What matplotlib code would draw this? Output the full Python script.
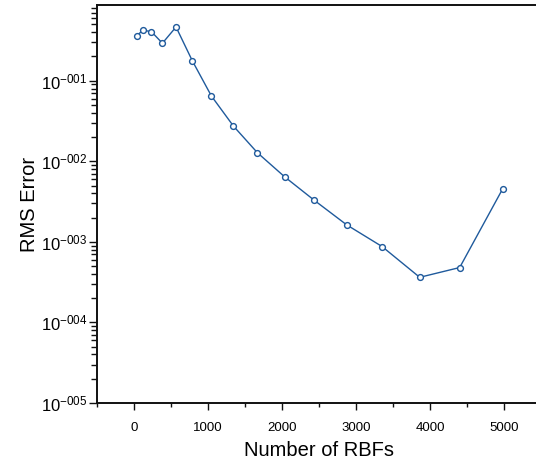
import matplotlib
matplotlib.use('Agg')
import matplotlib.pyplot as plt
from matplotlib.ticker import FixedLocator, LogLocator, FuncFormatter, NullFormatter
import numpy as np

C_LINE = '#1f5a9c'
C_INK = '#111111'

plt.rcParams.update({
    'font.family': 'Liberation Sans',
    'mathtext.fontset': 'custom',
    'mathtext.rm': 'Liberation Sans',
    'mathtext.it': 'Liberation Sans:italic',
    'mathtext.bf': 'Liberation Sans:bold',
})

# number of RBFs vs RMS error
n_rbfs = [36, 122, 235, 384, 568, 789, 1046, 1343, 1668, 2036, 2438, 2874, 3352, 3861, 4401, 4982]
rms_err = [0.362, 0.423, 0.406, 0.292, 0.464, 0.176, 0.0646, 0.0274, 0.01276,
           0.00641, 0.00327, 0.001626, 0.000875, 0.000363, 0.00048, 0.00455]

x_ticks = [0, 1000, 2000, 3000, 4000, 5000]
y_ticks = [1e-5, 1e-4, 1e-3, 1e-2, 1e-1]

fig = plt.figure(figsize=(5.36, 4.61), dpi=100)
ax = fig.add_axes([97/536, 58/461, 444/536, 398/461])

ax.plot(n_rbfs, rms_err, '-o', color=C_LINE, lw=1.0, ms=4.2,
        mfc='white', mec=C_LINE, mew=1.0, clip_on=False)

ax.set_yscale('log')
ax.set_xlim(-500, 5500)
ax.set_ylim(1e-5, 0.87)

ax.xaxis.set_major_locator(FixedLocator(x_ticks))
ax.xaxis.set_minor_locator(FixedLocator(np.arange(-500, 5501, 500)))
ax.yaxis.set_major_locator(FixedLocator(y_ticks))
ax.yaxis.set_minor_locator(LogLocator(base=10, subs=np.arange(2, 10), numticks=20))
ax.yaxis.set_minor_formatter(NullFormatter())

def fmt_pow(v, pos):
    e = int(round(np.log10(v)))
    return r'$10^{-%03d}$' % abs(e)

ax.yaxis.set_major_formatter(FuncFormatter(fmt_pow))

ax.tick_params(axis='x', which='major', direction='out', length=5, width=1, pad=8.5,
               labelsize=9.5, color=C_INK)
ax.tick_params(axis='x', which='minor', direction='out', length=3, width=1, color=C_INK)
ax.tick_params(axis='y', which='major', direction='out', length=6, width=1, pad=1,
               labelsize=12, color=C_INK)
ax.tick_params(axis='y', which='minor', direction='out', length=4, width=1, color=C_INK)

for s in ['left', 'bottom', 'top']:
    ax.spines[s].set_linewidth(1.4)
    ax.spines[s].set_color(C_INK)
ax.spines['right'].set_visible(False)

ax.set_xlabel('Number of RBFs', fontsize=14.5, labelpad=5)
ax.set_ylabel('RMS Error', fontsize=14.5, labelpad=1)

fig.savefig('out.png', dpi=100)
